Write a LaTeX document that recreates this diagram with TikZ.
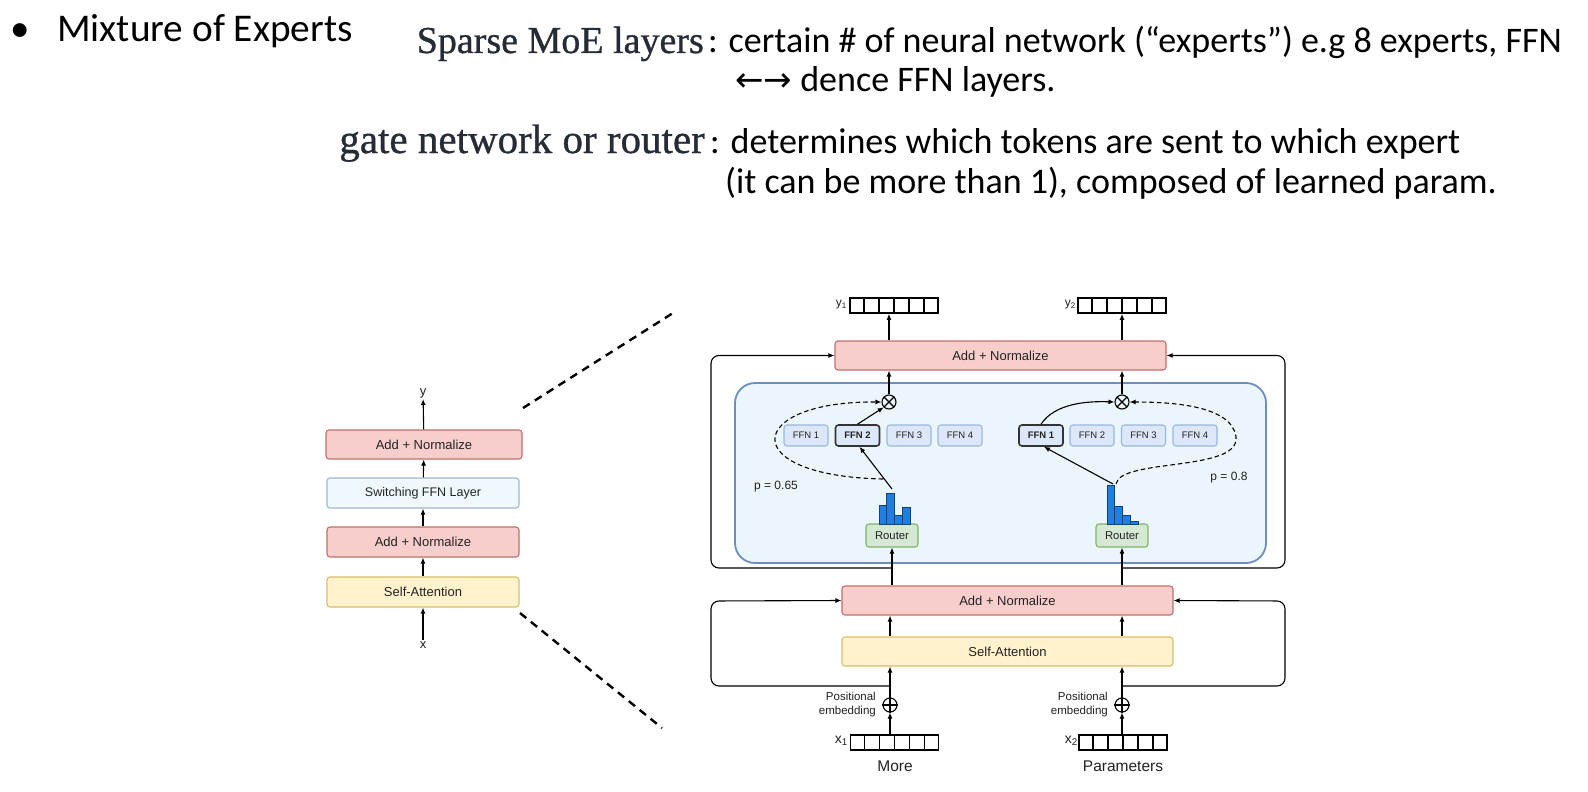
\documentclass[tikz,border=0pt]{standalone}
\usepackage{fontspec}
\setmainfont{Liberation Sans}
\newfontfamily\calfont{Carlito}
\newfontfamily\serfont[FakeBold=0.8]{Liberation Serif}
\newfontfamily\dvfont{DejaVu Sans}
\usetikzlibrary{arrows.meta,calc}
\newcommand{\fsz}[2]{\fontsize{#1}{#2}\selectfont}
\definecolor{rfill}{HTML}{F8CECC}
\definecolor{rdraw}{HTML}{C0706C}
\definecolor{yfill}{HTML}{FFF2CC}
\definecolor{ydraw}{HTML}{D9BE6A}
\definecolor{ffill}{HTML}{DCE8FA}
\definecolor{fdraw}{HTML}{9DB6DC}
\definecolor{swfill}{HTML}{EEF8FD}
\definecolor{swdraw}{HTML}{9DB6DC}
\definecolor{bigfill}{HTML}{EAF6FB}
\definecolor{bigdraw}{HTML}{6C8EBF}
\definecolor{gfill}{HTML}{D5E8D4}
\definecolor{gdraw}{HTML}{82B366}
\definecolor{hfill}{HTML}{1F7EE0}
\definecolor{hdraw}{HTML}{16406E}
\definecolor{sertext}{HTML}{262C36}
\definecolor{dtext}{HTML}{222222}
\tikzset{
  lay/.style={draw, rounded corners=3pt, line width=1.1pt, inner sep=0pt, text=dtext, font=\fsz{13}{15}},
  redbox/.style={lay, fill=rfill, draw=rdraw},
  yelbox/.style={lay, fill=yfill, draw=ydraw},
  swbox/.style={lay, fill=swfill, draw=swdraw, font=\fsz{12.5}{15}},
  ffnbox/.style={lay, fill=ffill, draw=fdraw, minimum width=44pt, minimum height=21pt, font=\fsz{9.5}{11}},
  ffnsel/.style={ffnbox, draw=black!80, line width=1.6pt, font=\bfseries\fsz{9.5}{11}},
  router/.style={lay, fill=gfill, draw=gdraw, minimum width=52pt, minimum height=23pt, font=\fsz{11.3}{13}},
  vec/.style={draw, line width=1.6pt, minimum width=88pt, minimum height=15pt, inner sep=0pt},
  opc/.style={circle, draw, line width=1.1pt, minimum size=14pt, inner sep=0pt},
  arr/.style={-{Latex[length=6pt,width=5pt]}, line width=1.1pt},
  darr/.style={-{Latex[length=6pt,width=5pt]}, line width=1.1pt, dash pattern=on 4.5pt off 3pt},
  zoomline/.style={line width=2.4pt, dash pattern=on 8pt off 6pt},
  lbl/.style={inner sep=1pt, text=dtext},
  hbar/.style={fill=hfill, draw=hdraw, line width=0.6pt},
  toptxt/.style={anchor=base west, inner sep=0pt, font=\calfont\fsz{36}{40}},
  sertxt/.style={anchor=base east, inner sep=0pt, text=sertext},
}
\newcommand{\cells}[1]{\foreach \i in {1,...,5}{\draw[line width=1.6pt] ($(#1.north west)!\i/6!(#1.north east)$) -- ($(#1.south west)!\i/6!(#1.south east)$);}}
\newcommand{\otimesmark}[1]{\draw[line width=1.1pt] (#1.north west) -- (#1.south east) (#1.north east) -- (#1.south west);}
\newcommand{\oplusmark}[1]{\draw[line width=1.1pt] (#1.north) -- (#1.south) (#1.west) -- (#1.east);}
\begin{document}
\begin{tikzpicture}[x=1pt,y=-1pt]
\useasboundingbox (0,0) rectangle (1588,792);
\fill[white] (0,0) rectangle (1588,792);

% ---------- top text ----------
\node[anchor=base, inner sep=0pt, font=\calfont\fsz{39}{42}] (bul) at (20,42) {•};
\node[anchor=base west, inner sep=0pt, font=\calfont\fsz{39.3}{42}] (title) at (57,42) {Mixture of Experts};
\node[sertxt, font=\serfont\fsz{38}{42}] (smoe) at (704,53) {Sparse MoE layers};
\node[toptxt] (t1) at (708,53) {: certain \# of neural network (“experts”) e.g 8 experts, FFN};
\node[toptxt] (t2) at (735,92) {{\dvfont\fsz{34}{40}←→} dence FFN layers.};
\node[sertxt, font=\serfont\fsz{41}{44}] (gate) at (705,153) {gate network or router};
\node[toptxt] (t3) at (710,153) {: determines which tokens are sent to which expert};
\node[toptxt] (t4) at (725,193) {(it can be more than 1), composed of learned param.};

% ---------- left stack ----------
\node[redbox, minimum width=196pt, minimum height=29pt] (lan2) at (424,444.5) {Add + Normalize};
\node[swbox, minimum width=192pt, minimum height=30pt] (lsw) at (423,493) {Switching FFN Layer};
\node[redbox, minimum width=192pt, minimum height=30pt] (lan1) at (423,542) {Add + Normalize};
\node[yelbox, minimum width=192pt, minimum height=30pt] (lsa) at (423,592) {Self-Attention};
\node[lbl, font=\fsz{13}{15}] (ly) at (423,393) {y};
\node[lbl, font=\fsz{13}{15}] (lx) at (423,645) {x};
\draw[arr] (lx) -- (lsa);
\draw[arr] (lsa) -- (lan1);
\draw[arr] (lan1) -- (lsw);
\draw[arr] (lsw) -- (lan2);
\draw[arr] (lan2) -- (ly);

\coordinate (z1a) at (523,408);
\coordinate (z1b) at (673,313);
\coordinate (z2a) at (520,613);
\coordinate (z2b) at (662,728);
\draw[zoomline] (z1a) -- (z1b);
\draw[zoomline] (z2a) -- (z2b);

% ---------- right diagram ----------
\node[draw=bigdraw, fill=bigfill, line width=1.8pt, rounded corners=20pt, minimum width=531pt, minimum height=180pt, inner sep=0pt] (moe) at (1000.5,473) {};

\node[redbox, minimum width=331pt, minimum height=29pt] (an2) at (1000.5,355.5) {Add + Normalize};
\node[redbox, minimum width=331pt, minimum height=29pt] (an1) at (1007.5,600.5) {Add + Normalize};
\node[yelbox, minimum width=331pt, minimum height=29pt] (sa) at (1007.5,651.5) {Self-Attention};

% output vectors
\node[vec] (y1v) at (894,305.5) {};
\node[vec] (y2v) at (1122,305.5) {};
\cells{y1v}
\cells{y2v}
\node[lbl, font=\fsz{12}{14}, anchor=east] (y1l) at (848,305) {y\textsubscript{1}};
\node[lbl, font=\fsz{12}{14}, anchor=east] (y2l) at (1077,305) {y\textsubscript{2}};

% input vectors
\node[vec] (x1v) at (894.5,742.5) {};
\node[vec] (x2v) at (1123,742.5) {};
\cells{x1v}
\cells{x2v}
\node[lbl, font=\fsz{14}{16}, anchor=east] (x1l) at (849,741) {x\textsubscript{1}};
\node[lbl, font=\fsz{14}{16}, anchor=east] (x2l) at (1079,741) {x\textsubscript{2}};
\node[lbl, font=\fsz{15.5}{18}] (more) at (895,766) {More};
\node[lbl, font=\fsz{15.5}{18}] (params) at (1123,766) {Parameters};

% positional embedding
\node[opc] (pL) at (890,705) {};
\node[opc] (pR) at (1122,705) {};
\oplusmark{pL}
\oplusmark{pR}
\node[lbl, align=right, anchor=east, font=\fsz{11.5}{14}] (peL) at (877,705) {Positional\\embedding};
\node[lbl, align=right, anchor=east, font=\fsz{11.5}{14}] (peR) at (1109,705) {Positional\\embedding};

% experts
\node[ffnbox] (fL1) at (806,435.5) {FFN 1};
\node[ffnsel] (fL2) at (857.5,435.5) {FFN 2};
\node[ffnbox] (fL3) at (909,435.5) {FFN 3};
\node[ffnbox] (fL4) at (960,435.5) {FFN 4};
\node[ffnsel] (fR1) at (1041,435.5) {FFN 1};
\node[ffnbox] (fR2) at (1092,435.5) {FFN 2};
\node[ffnbox] (fR3) at (1143.5,435.5) {FFN 3};
\node[ffnbox] (fR4) at (1195,435.5) {FFN 4};

% routers
\node[router] (rL) at (892,535.5) {Router};
\node[router] (rR) at (1122,535.5) {Router};

% histograms
\draw[hbar] (879,524) rectangle (886.75,505);
\draw[hbar] (886.75,524) rectangle (894.5,493);
\draw[hbar] (894.5,524) rectangle (902.25,515);
\draw[hbar] (902.25,524) rectangle (910,507);
\draw[hbar] (1107,524) rectangle (1114.75,485);
\draw[hbar] (1114.75,524) rectangle (1122.5,506);
\draw[hbar] (1122.5,524) rectangle (1130.25,515);
\draw[hbar] (1130.25,524) rectangle (1138,521);

% combine nodes
\node[opc] (oL) at (889,402) {};
\node[opc] (oR) at (1122,402) {};
\otimesmark{oL}
\otimesmark{oR}

\node[lbl, font=\fsz{12}{14}] (pl) at (776,487) {p = 0.65};
\node[lbl, font=\fsz{12}{14}] (pr) at (1229,478) {p = 0.8};

% vertical flow
\draw[arr] (x1v.north -| pL) -- (pL);
\draw[arr] (x2v.north -| pR) -- (pR);
\draw[arr] (pL) -- (pL |- sa.south);
\draw[arr] (pR) -- (pR |- sa.south);
\draw[arr] (pL |- sa.north) -- (pL |- an1.south);
\draw[arr] (pR |- sa.north) -- (pR |- an1.south);
\draw[arr] (rL.south |- an1.north) -- (rL.south);
\draw[arr] (rR.south |- an1.north) -- (rR.south);
\draw[arr] (oL) -- (oL |- an2.south);
\draw[arr] (oR) -- (oR |- an2.south);
\draw[arr] (oL |- an2.north) -- (oL |- y1v.south);
\draw[arr] (oR |- an2.north) -- (oR |- y2v.south);

% residual frames
\coordinate (bL2) at (890,686);
\coordinate (bR2) at (1122,686);
\coordinate (bL1) at (892,568);
\coordinate (bR1) at (1122,568);
\draw[arr, rounded corners=8pt] (bL2) -| (711,601) -- (an1.west);
\draw[arr, rounded corners=8pt] (bR2) -| (1285,601) -- (an1.east);
\draw[arr, rounded corners=8pt] (bL1) -| (711,355.5) -- (an2.west);
\draw[arr, rounded corners=8pt] (bR1) -| (1285,355.5) -- (an2.east);

% routing
\coordinate (hL) at (892,489);
\coordinate (hR) at (1113,484);
\coordinate (dL) at (883,479);
\coordinate (dR) at (1116,484);
\draw[arr] (hL) -- ([xshift=2pt]fL2.south);
\draw[arr] (hR) -- ([xshift=3pt]fR1.south);
\draw[arr] (fL2.north) -- (oL.south west);
\draw[arr] (fR1.north) .. controls (1055,403) and (1088,401) .. (oR.west);
\draw[darr] (dL) .. controls (735,476) and (745,401) .. (oL.west);
\draw[darr] (dR) .. controls (1120,458) and (1240,472) .. (1236,437) .. controls (1232,405) and (1170,402) .. (oR.east);
\end{tikzpicture}
\end{document}
